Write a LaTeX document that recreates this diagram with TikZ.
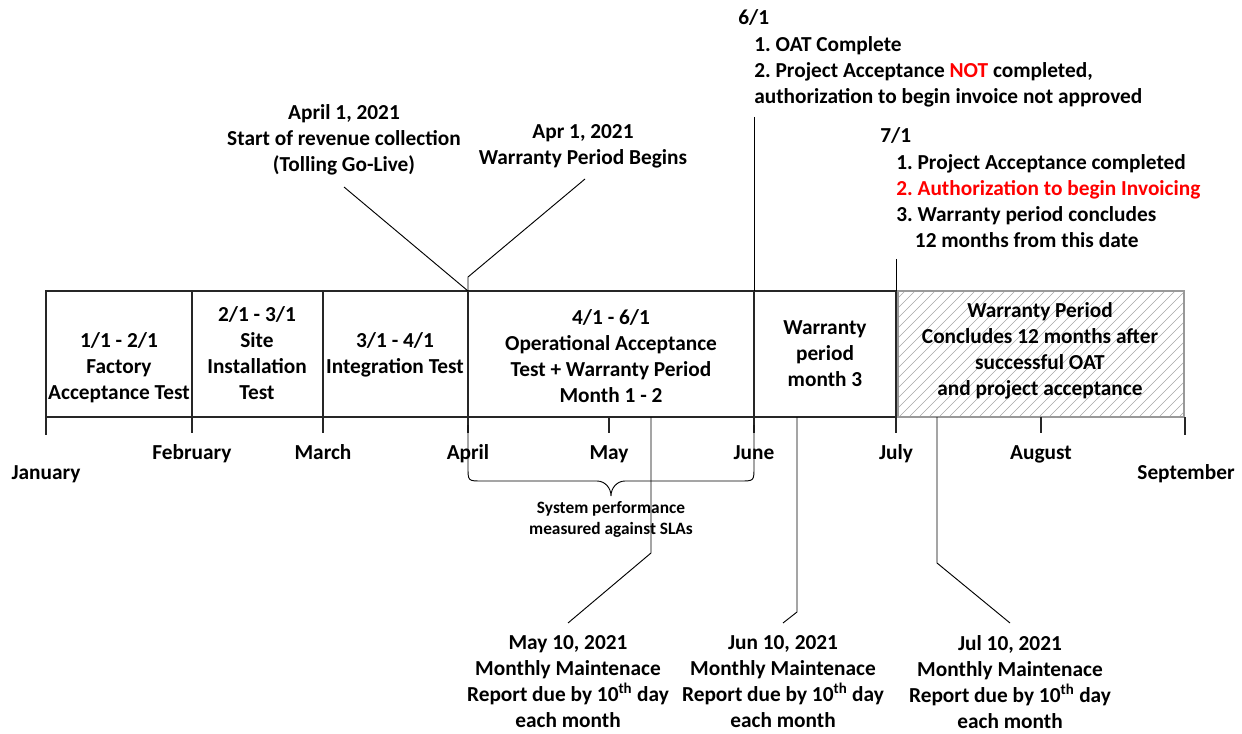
\documentclass[tikz,border=0pt]{standalone}
\usepackage{fontspec}
\setmainfont{Carlito}
\frenchspacing
\usetikzlibrary{calc}
\begin{document}
\frenchspacing
\begin{tikzpicture}[x=0.75pt,y=-0.75pt,
  lbl/.style={font=\fontsize{16}{19.5}\selectfont\bfseries, align=center, inner sep=0pt},
  lbll/.style={font=\fontsize{16}{19.5}\selectfont\bfseries, align=left, inner sep=0pt, anchor=west},
  month/.style={font=\fontsize{16}{19.5}\selectfont\bfseries, inner sep=0pt, anchor=base},
  small/.style={font=\fontsize{13}{15.8}\selectfont\bfseries, align=center, inner sep=0pt},
  frame/.style={draw=black!85, line width=1pt},
  callout/.style={draw=black, line width=0.7pt},
  hatchline/.style={draw=black!35, line width=0.45pt}
  ]
\useasboundingbox (0,0) rectangle (1242,734);

% ---------- hatched box ----------
\begin{scope}
  \clip (898,292) rectangle (1184,416);
  \foreach \i in {760,770,...,1190} \draw[hatchline] (\i,416) -- ++(126,-126);
\end{scope}
\draw[draw=black!40, line width=1pt] (898,291) rectangle (1184,417);

% ---------- main boxes ----------
\draw[frame] (46,291) rectangle (896,417);
\foreach \x in {192,323,468,754} \draw[frame] (\x,291) -- (\x,417);

% ---------- ticks ----------
\draw[frame] (46,417) -- (46,435);
\foreach \x in {192,323,468,609,754,896,1041} \draw[frame] (\x,417) -- (\x,433);
\draw[frame] (1185,417) -- (1185,435);

% ---------- box texts ----------
\node[lbl] (b1) at (119,368) {1/1 - 2/1\\Factory\\Acceptance Test};
\node[lbl] (b2) at (257,353) {2/1 - 3/1\\Site\\Installation\\Test};
\node[lbl] (b3) at (395,355) {3/1 - 4/1\\Integration Test};
\node[lbl] (b4) at (611,356) {4/1 - 6/1\\Operational Acceptance\\Test + Warranty Period\\Month 1 - 2};
\node[lbl] (b5) at (825,354) {Warranty\\period\\month 3};
\node[lbl] (b6) at (1040,351) {Warranty Period\\Concludes 12 months after\\successful OAT\\and project acceptance};

% ---------- month labels ----------
\node[month] (jan) at (46,479) {January};
\node[month] (feb) at (192,459) {February};
\node[month] (mar) at (323,459) {March};
\node[month] (apr) at (468,459) {April};
\node[month] (may) at (609,459) {May};
\node[month] (jun) at (754,459) {June};
\node[month] (jul) at (896,459) {July};
\node[month] (aug) at (1041,459) {August};
\node[month] (sep) at (1186,479) {September};

% ---------- brace ----------
\coordinate (brL) at (468,425);
\coordinate (brR) at (754,425);
\coordinate (brTip) at (611,496);
\draw[callout] (brL) -- (468,467) .. controls (468,481) .. (482,481) -- (597,481)
  .. controls (605,481) and (611,488) .. (brTip)
  .. controls (611,488) and (617,481) .. (625,481) -- (740,481)
  .. controls (754,481) .. (754,467) -- (brR);
\node[small] (sla) at (611,519) {System performance\\measured against SLAs};

% ---------- top callouts ----------
\node[lbl] (rev) at (344,140) {April 1, 2021\\Start of revenue collection\\(Tolling Go-Live)};
\node[lbl] (wpb) at (583,146) {Apr 1, 2021\\Warranty Period Begins};
\coordinate (aprTop) at (468,291);
\coordinate (revEnd) at (344,187);
\coordinate (wpbEnd) at (585,179);
\coordinate (wpbBend) at (468,277);
\draw[callout] (revEnd) -- (aprTop);
\draw[callout] (wpbEnd) -- (wpbBend) -- (aprTop);

\node[lbll] (h61) at (738,18) {6/1};
\node[lbll] (l61) at (754,72) {1. OAT Complete\\2. Project Acceptance \textcolor{red}{NOT} completed,\\authorization to begin invoice not approved};
\coordinate (c61) at (754,117);
\coordinate (junTop) at (754,291);
\draw[callout] (c61) -- (junTop);

\node[lbll] (h71) at (880,136) {7/1};
\node[lbll] (l71) at (896,201) {1. Project Acceptance completed\\\textcolor{red}{2. Authorization to begin Invoicing}\\3. Warranty period concludes\\\hspace*{14pt}12 months from this date};
\coordinate (c71) at (896,259);
\coordinate (julTop) at (896,291);
\draw[callout] (c71) -- (julTop);

% ---------- bottom callouts ----------
\node[lbl] (m10) at (568,682) {May 10, 2021\\Monthly Maintenace\\Report due by 10\textsuperscript{th} day\\each month};
\node[lbl] (j10) at (783,682) {Jun 10, 2021\\Monthly Maintenace\\Report due by 10\textsuperscript{th} day\\each month};
\node[lbl] (l10) at (1010,682) {Jul 10, 2021\\Monthly Maintenace\\Report due by 10\textsuperscript{th} day\\each month};

\coordinate (m10top) at (651,417);
\coordinate (j10top) at (797,417);
\coordinate (l10top) at (937,417);
\draw[callout] (m10top) -- (651,553) -- (568,623);
\draw[callout] (j10top) -- (797,612) -- (783,623);
\draw[callout] (l10top) -- (937,563) -- (1010,623);
\end{tikzpicture}
\end{document}
